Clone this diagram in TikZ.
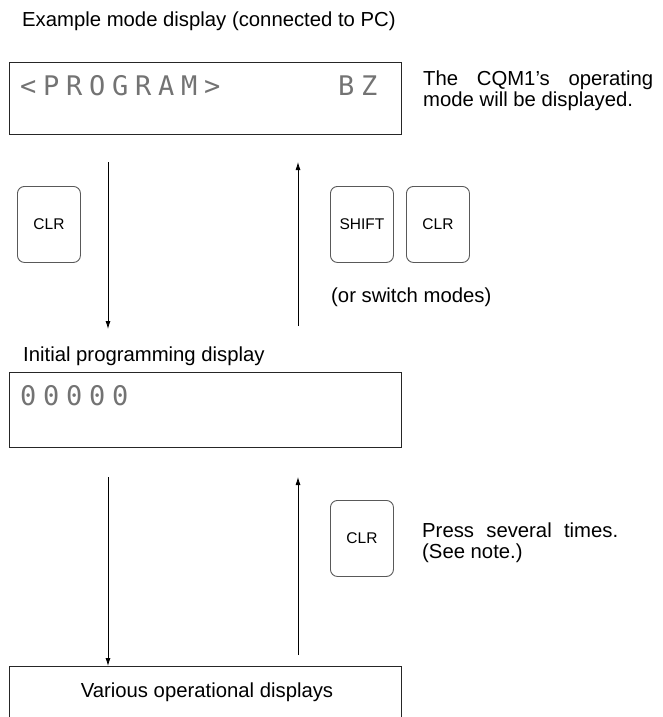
\documentclass[tikz,border=0pt]{standalone}
\usepackage{fontspec}
\setmainfont{Liberation Sans}
\newfontfamily\lcdfont[LetterSpace=25]{DejaVu Sans Mono}
\usetikzlibrary{arrows.meta}
\begin{document}
\begin{tikzpicture}[x=1pt,y=-1pt,
  txt/.style={font=\fontsize{20.3}{20}\selectfont, inner sep=0pt, anchor=base west},
  disp/.style={draw=black!85, line width=1pt, minimum width=392pt, inner sep=0pt, anchor=north west},
  lcd/.style={font=\lcdfont\fontsize{27}{28}\selectfont, text=black!55, inner sep=0pt, anchor=base west},
  keybox/.style={draw=black!65, rounded corners=7pt, line width=0.9pt, minimum width=63pt, minimum height=76pt, font=\fontsize{15.5}{16}\selectfont, inner sep=0pt, anchor=north west},
  arr/.style={-{Latex[length=8pt,width=5pt]}, line width=0.8pt},
  line/.style={line width=1pt}
]
\useasboundingbox (0,0) rectangle (662,717);
% title
\node[txt] (title) at (22,27) {Example mode display (connected to PC)};
% mode display
\node[disp, minimum height=72pt] (mode) at (9,62) {};
\node[lcd] (prog) at (20,95) {<PROGRAM>};
\node[lcd] (bz) at (338,95) {BZ};
\node[txt, anchor=north west, text width=230pt, align=justify, font=\fontsize{20.3}{20.5}\selectfont] (note1) at (423,71) {The CQM1's operating\linebreak mode will be displayed.};
% keys
\node[keybox] (clr1) at (17,186) {CLR};
\node[keybox] (shift) at (330,186) {SHIFT};
\node[keybox] (clr2) at (406,186) {CLR};
\node[txt] (orsw) at (331,302) {(or switch modes)};
% arrows between mode and init
\coordinate (d1s) at (108,162);
\coordinate (d1e) at (108,329);
\coordinate (u1s) at (298,326);
\coordinate (u1e) at (298,162);
\draw[arr] (d1s) -- (d1e);
\draw[arr] (u1s) -- (u1e);
% initial display
\node[txt] (inittitle) at (23,361) {Initial programming display};
\node[disp, minimum height=75pt] (init) at (9,372) {};
\node[lcd] (zeros) at (20,405) {00000};
% lower part
\node[keybox] (clr3) at (330,500) {CLR};
\node[txt, anchor=north west, text width=196pt, align=justify, font=\fontsize{20.3}{20.5}\selectfont] (note2) at (422,523) {Press several times.\linebreak (See note.)};
% bottom box (open at bottom)
\node[minimum width=392pt, minimum height=52pt, inner sep=0pt, anchor=north west] (various) at (9,666) {};
\draw[line, draw=black!85] (various.south west) |- (various.north east) -- (various.south east);
\node[font=\fontsize{20.3}{20}\selectfont, inner sep=0pt, anchor=base] (vtext) at (207,697) {Various operational displays};
\coordinate (d2s) at (108,477);
\coordinate (u2s) at (298,655);
\coordinate (u2e) at (298,477);
\draw[arr] (d2s) -- (various.north west -| d2s);
\draw[arr] (u2s) -- (u2e);
\end{tikzpicture}
\end{document}
